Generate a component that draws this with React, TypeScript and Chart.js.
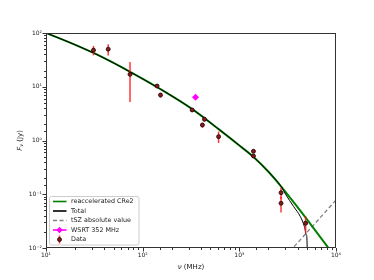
import React, { useEffect, useRef } from 'react';
import { Chart, registerables } from 'chart.js';

Chart.register(...registerables);

// Measured data points (frequency in MHz, flux density in Jy, 1-sigma error)
const dataFreq = [31, 44, 74, 141, 153, 325, 436, 415, 610, 1400, 1400, 2700, 2700, 4850];
const dataFlux = [48, 50, 17, 10.3, 7.0, 3.7, 2.48, 1.94, 1.18, 0.63, 0.515, 0.107, 0.068, 0.029];
const dataErr = [9.5, 12, 11.8, 0.8, 0.7, 0.3, 0.2, 0.2, 0.28, 0.04, 0.04, 0.025, 0.022, 0.01];

// WSRT 352 MHz point
const wsrtFreq = [352];
const wsrtFlux = [6.4];

// reaccelerated CRe2 model curve
const creFreq = [10, 17.7, 31.4, 48.3, 74.2, 152, 331, 620, 1024, 1430, 2000, 2724, 3715, 5030, 6910, 10120];
const creFlux = [100, 66.3, 42.1, 28.6, 18.9, 9.08, 3.76, 1.595, 0.783, 0.477, 0.262, 0.1376, 0.0682, 0.0336, 0.0158, 0.0063];

// Total curve
const totalFreq = [10, 17.7, 31.4, 48.3, 74.2, 152, 331, 620, 1024, 1430, 2000, 2724, 3000, 3653, 4287, 4716, 4947, 5030, 5035];
const totalFlux = [100, 66.3, 42.1, 28.6, 18.9, 9.08, 3.76, 1.595, 0.783, 0.477, 0.262, 0.1376, 0.101, 0.0587, 0.0382, 0.0249, 0.01745, 0.01044, 0.0001];

// tSZ absolute value
const tszFreq = [3000, 10000];
const tszFlux = [0.007, 0.078];

// Axis ticks
const xTickValues = [10, 100, 1000, 10000];
const xTickLabels = ['10¹', '10²', '10³', '10⁴'];
const yTickValues = [0.01, 0.1, 1, 10, 100];
const yTickLabels = ['10⁻²', '10⁻¹', '10⁰', '10¹', '10²'];

const legendLabels = ['reaccelerated CRe2', 'Total', 'tSZ absolute value', 'WSRT 352 MHz', 'Data'];

const GREEN = '#008000';
const FONT = '"DejaVu Sans", sans-serif';

const isPow10 = (v: number) => Math.abs(Math.log10(v) - Math.round(Math.log10(v))) < 1e-6;

const labelFor = (vals: number[], labels: string[]) => (v: any) => {
  const n = Number(v);
  for (let i = 0; i < vals.length; i++) {
    if (Math.abs(Math.log10(n) - Math.log10(vals[i])) < 1e-6) return labels[i];
  }
  return '';
};

const errorBarPlugin = {
  id: 'errorBars',
  beforeDatasetDraw(chart: any, args: any) {
    if (args.index !== 0) return;
    const { ctx } = chart;
    const xs = chart.scales.x;
    const ys = chart.scales.y;
    ctx.save();
    ctx.strokeStyle = 'rgba(255,20,20,0.85)';
    ctx.lineWidth = 1.5;
    for (let i = 0; i < dataFreq.length; i++) {
      const px = xs.getPixelForValue(dataFreq[i]);
      const lo = Math.max(dataFlux[i] - dataErr[i], 1e-4);
      const hi = dataFlux[i] + dataErr[i];
      ctx.beginPath();
      ctx.moveTo(px, ys.getPixelForValue(lo));
      ctx.lineTo(px, ys.getPixelForValue(hi));
      ctx.stroke();
    }
    ctx.restore();
  },
};

const decorPlugin = {
  id: 'decor',
  afterDraw(chart: any) {
    const { ctx, chartArea } = chart;
    const { left, right, top, bottom } = chartArea;
    const xs = chart.scales.x;
    const ys = chart.scales.y;
    ctx.save();
    // frame
    ctx.strokeStyle = '#333';
    ctx.lineWidth = 1;
    ctx.strokeRect(Math.round(left) + 0.5, Math.round(top) + 0.5, Math.round(right - left) - 1, Math.round(bottom - top) - 1);
    // ticks
    ctx.beginPath();
    xs.ticks.forEach((t: any) => {
      const px = Math.round(xs.getPixelForValue(t.value)) + 0.5;
      const len = isPow10(t.value) ? 3.5 : 2;
      ctx.moveTo(px, bottom);
      ctx.lineTo(px, bottom + len);
    });
    ys.ticks.forEach((t: any) => {
      const py = Math.round(ys.getPixelForValue(t.value)) + 0.5;
      const len = isPow10(t.value) ? 3.5 : 2;
      ctx.moveTo(left, py);
      ctx.lineTo(left - len, py);
    });
    ctx.stroke();

    // axis titles
    ctx.fillStyle = '#111';
    ctx.textBaseline = 'middle';
    ctx.textAlign = 'left';
    const fs = 7;
    const it = `italic ${fs}px ${FONT}`;
    const rg = `${fs}px ${FONT}`;
    // x title
    {
      ctx.font = it;
      const w1 = ctx.measureText('ν').width;
      ctx.font = rg;
      const w2 = ctx.measureText(' (MHz)').width;
      const cx = (left + right) / 2;
      const x = cx - (w1 + w2) / 2;
      const y = 267;
      ctx.font = it;
      ctx.fillText('ν', x, y);
      ctx.font = rg;
      ctx.fillText(' (MHz)', x + w1, y);
    }
    // y title
    {
      ctx.save();
      ctx.translate(20, (top + bottom) / 2);
      ctx.rotate(-Math.PI / 2);
      const sub = `italic 5px ${FONT}`;
      ctx.font = it;
      const w1 = ctx.measureText('F').width;
      ctx.font = sub;
      const w2 = ctx.measureText('ν').width;
      ctx.font = rg;
      const w3 = ctx.measureText(' (Jy)').width;
      const x = -(w1 + w2 + w3) / 2;
      ctx.font = it;
      ctx.fillText('F', x, 0);
      ctx.font = sub;
      ctx.fillText('ν', x + w1, 1.8);
      ctx.font = rg;
      ctx.fillText(' (Jy)', x + w1 + w2, 0);
      ctx.restore();
    }

    // legend
    const bx = 49.5, by = 196.5, bw = 89.5, bh = 48.5;
    ctx.beginPath();
    ctx.roundRect(bx, by, bw, bh, 2);
    ctx.fillStyle = 'rgba(255,255,255,0.8)';
    ctx.fill();
    ctx.strokeStyle = '#ccc';
    ctx.lineWidth = 1;
    ctx.stroke();
    const rows = [201.5, 211, 220.5, 230, 239.5];
    const hx0 = 53, hx1 = 66.5, hmid = 59.5;
    // green
    ctx.lineWidth = 1.6;
    ctx.strokeStyle = GREEN;
    ctx.beginPath(); ctx.moveTo(hx0, rows[0]); ctx.lineTo(hx1, rows[0]); ctx.stroke();
    // black
    ctx.strokeStyle = '#000';
    ctx.beginPath(); ctx.moveTo(hx0, rows[1]); ctx.lineTo(hx1, rows[1]); ctx.stroke();
    // grey dashed
    ctx.strokeStyle = '#808080';
    ctx.setLineDash([4, 2.5]);
    ctx.beginPath(); ctx.moveTo(hx0, rows[2]); ctx.lineTo(hx1, rows[2]); ctx.stroke();
    ctx.setLineDash([]);
    // magenta
    ctx.strokeStyle = '#ff00ff';
    ctx.fillStyle = '#ff00ff';
    ctx.beginPath(); ctx.moveTo(hx0, rows[3]); ctx.lineTo(hx1, rows[3]); ctx.stroke();
    ctx.beginPath();
    ctx.moveTo(hmid, rows[3] - 3.2); ctx.lineTo(hmid + 3.2, rows[3]); ctx.lineTo(hmid, rows[3] + 3.2); ctx.lineTo(hmid - 3.2, rows[3]);
    ctx.closePath(); ctx.fill();
    // data
    ctx.strokeStyle = 'rgba(255,20,20,0.85)';
    ctx.lineWidth = 1.5;
    ctx.beginPath(); ctx.moveTo(hmid, rows[4] - 4); ctx.lineTo(hmid, rows[4] + 4); ctx.stroke();
    ctx.beginPath(); ctx.arc(hmid, rows[4], 2, 0, Math.PI * 2);
    ctx.fillStyle = '#8b1a1a'; ctx.fill();
    ctx.strokeStyle = '#1a0000'; ctx.lineWidth = 0.8; ctx.stroke();
    // texts
    ctx.fillStyle = '#222';
    ctx.font = `6.4px ${FONT}`;
    ctx.textBaseline = 'middle';
    legendLabels.forEach((t, i) => ctx.fillText(t, 71, rows[i] + 0.3));
    ctx.restore();
  },
};

export default function App() {
  const ref = useRef<HTMLCanvasElement | null>(null);
  useEffect(() => {
    if (!ref.current) return;
    const toXY = (xs: number[], ys: number[]) => xs.map((x, i) => ({ x, y: ys[i] }));
    const chart = new Chart(ref.current, {
      type: 'scatter',
      data: {
        datasets: [
          {
            label: 'Data',
            data: toXY(dataFreq, dataFlux),
            pointRadius: 2,
            pointBackgroundColor: '#8b1a1a',
            pointBorderColor: '#1a0000',
            pointBorderWidth: 0.8,
            showLine: false,
            order: 0,
          },
          {
            label: 'WSRT 352 MHz',
            data: toXY(wsrtFreq, wsrtFlux),
            pointStyle: 'rectRot',
            pointRadius: 3.5,
            pointBackgroundColor: '#ff00ff',
            pointBorderColor: '#ff00ff',
            pointBorderWidth: 0,
            showLine: false,
            order: 1,
          },
          {
            label: 'reaccelerated CRe2',
            data: toXY(creFreq, creFlux),
            showLine: true,
            borderColor: GREEN,
            borderWidth: 2,
            pointRadius: 0,
            cubicInterpolationMode: 'monotone',
            order: 3,
          },
          {
            label: 'Total',
            data: toXY(totalFreq, totalFlux),
            showLine: true,
            borderColor: '#000',
            borderWidth: 1,
            pointRadius: 0,
            cubicInterpolationMode: 'monotone',
            order: 2,
          },
          {
            label: 'tSZ absolute value',
            data: toXY(tszFreq, tszFlux),
            showLine: true,
            borderColor: '#808080',
            borderWidth: 1.3,
            borderDash: [4, 2.5],
            pointRadius: 0,
            order: 4,
          },
        ],
      },
      options: {
        animation: false,
        responsive: false,
        devicePixelRatio: 1,
        layout: { padding: { left: 0, top: 33, right: 38, bottom: 0 } },
        plugins: { legend: { display: false }, tooltip: { enabled: false } },
        scales: {
          x: {
            type: 'logarithmic',
            min: 10,
            max: 10000,
            grid: { display: false, drawTicks: false },
            border: { display: false },
            afterFit: (s: any) => { s.height = 32; },
            ticks: {
              autoSkip: false,
              maxRotation: 0,
              padding: 4,
              color: '#222',
              font: { family: FONT, size: 6 },
              callback: labelFor(xTickValues, xTickLabels),
            },
          },
          y: {
            type: 'logarithmic',
            min: 0.01,
            max: 100,
            grid: { display: false, drawTicks: false },
            border: { display: false },
            afterFit: (s: any) => { s.width = 46; },
            ticks: {
              autoSkip: false,
              padding: 4,
              color: '#222',
              font: { family: FONT, size: 6 },
              callback: labelFor(yTickValues, yTickLabels),
            },
          },
        },
      },
      plugins: [errorBarPlugin, decorPlugin],
    } as any);
    return () => chart.destroy();
  }, []);
  return (
    <div style={{ position: 'absolute', left: 0, top: 0, width: 374, height: 280, background: '#fff' }}>
      <canvas ref={ref} width={374} height={280} style={{ display: 'block' }} />
    </div>
  );
}
